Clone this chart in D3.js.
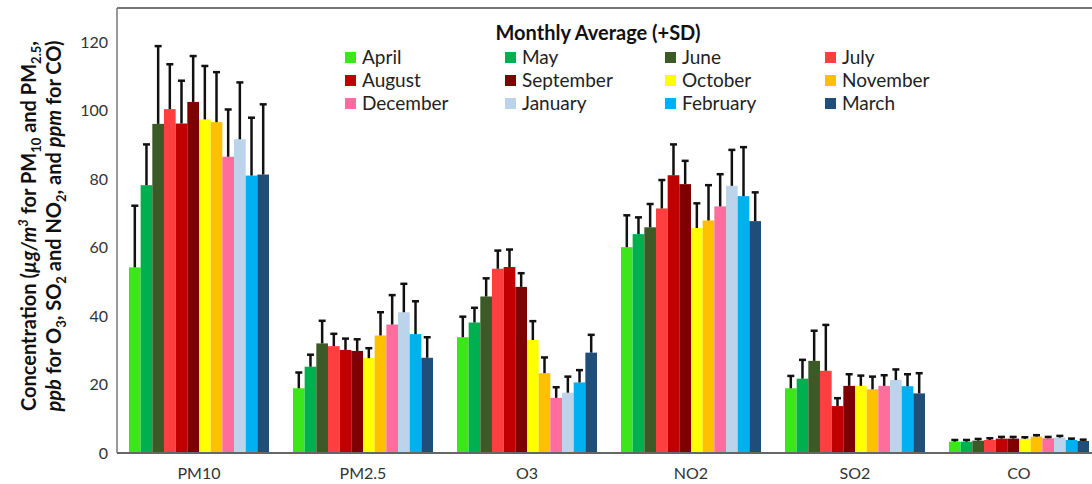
<!DOCTYPE html>
<html>
<head>
<meta charset="utf-8">
<script src="https://cdn.jsdelivr.net/npm/d3@7"></script>
<style>
  body { margin: 0; background: #fff; }
  text { font-family: Lato, "Open Sans", sans-serif; }
</style>
</head>
<body>
<div id="chart"></div>
<script>
var svgWidth = 1092;
var svgHeight = 484;

var pollutants = ["PM10", "PM2.5", "O3", "NO2", "SO2", "CO"];
var months = ["April", "May", "June", "July", "August", "September",
    "October", "November", "December", "January", "February", "March"];
var monthColors = ["#3de61c", "#00b050", "#3b5a26", "#ff3f3f", "#c00000", "#7f0000",
    "#ffff00", "#ffc000", "#ff6d9e", "#bcd3ec", "#00b0f0", "#1f4e79"];

// monthly means, one array per pollutant (April..March)
var meanPM10 = [54.2, 78.2, 96.1, 100.4, 96.2, 102.5, 97.4, 96.6, 86.5, 91.6, 81.0, 81.3];
var meanPM25 = [18.9, 25.2, 32.0, 31.2, 30.1, 29.8, 27.7, 34.3, 37.5, 41.1, 34.7, 27.8];
var meanO3 = [33.8, 38.1, 45.7, 53.8, 54.3, 48.5, 33.0, 23.3, 16.1, 17.6, 20.6, 29.3];
var meanNO2 = [60.1, 63.9, 65.9, 71.4, 81.1, 78.5, 65.7, 67.9, 72.0, 78.0, 75.0, 67.7];
var meanSO2 = [18.9, 21.7, 26.9, 24.0, 13.7, 19.6, 19.6, 18.6, 19.6, 21.3, 19.5, 17.4];
var meanCO = [3.3, 3.3, 3.6, 3.8, 4.2, 4.2, 4.1, 4.8, 4.3, 4.5, 3.8, 3.5];

// mean + SD (top of error bar)
var topPM10 = [72.2, 90.1, 118.8, 113.5, 108.7, 115.9, 113.0, 111.2, 100.3, 108.2, 97.9, 101.8];
var topPM25 = [23.5, 28.7, 38.6, 34.8, 33.4, 33.2, 30.6, 41.1, 46.1, 49.4, 44.3, 33.8];
var topO3 = [39.8, 42.4, 51.0, 59.1, 59.4, 52.5, 38.5, 27.9, 19.2, 22.3, 24.2, 34.5];
var topNO2 = [69.4, 68.8, 72.7, 79.7, 90.1, 85.3, 72.9, 78.2, 81.4, 88.5, 89.3, 76.1];
var topSO2 = [22.5, 27.2, 35.7, 37.4, 16.0, 23.0, 22.6, 22.3, 22.7, 24.4, 23.0, 23.3];
var topCO = [3.8, 3.8, 4.1, 4.3, 4.7, 4.7, 4.6, 5.2, 4.7, 5.0, 4.2, 3.9];

var yTicks = [0, 20, 40, 60, 80, 100, 120];

var means = [meanPM10, meanPM25, meanO3, meanNO2, meanSO2, meanCO];
var tops = [topPM10, topPM25, topO3, topNO2, topSO2, topCO];

var rows = [];
pollutants.forEach(function (p, i) {
    months.forEach(function (m, j) {
        rows.push({ pollutant: p, month: m, value: means[i][j], top: tops[i][j], color: monthColors[j] });
    });
});

var margin = { top: 8, left: 117, bottom: 453 };

var svg = d3.select("#chart")
    .append("svg")
    .attr("width", svgWidth)
    .attr("height", svgHeight);

var x0 = d3.scaleBand()
    .domain(pollutants)
    .range([margin.left, 1101])
    .paddingInner(0.146)
    .paddingOuter(0.073);

var x1 = d3.scaleBand()
    .domain(months)
    .range([0, x0.bandwidth()]);

var y = d3.scaleLinear()
    .domain([0, 120])
    .range([margin.bottom, 42]);

// frame
svg.append("line")
    .attr("x1", margin.left).attr("x2", svgWidth)
    .attr("y1", margin.top).attr("y2", margin.top)
    .attr("stroke", "#777").attr("stroke-width", 2);
svg.append("line")
    .attr("x1", margin.left).attr("x2", margin.left)
    .attr("y1", margin.top).attr("y2", margin.bottom)
    .attr("stroke", "#777").attr("stroke-width", 1.5);

// bars
svg.append("g").selectAll("rect")
    .data(rows)
    .enter()
    .append("rect")
    .attr("x", d => x0(d.pollutant) + x1(d.month))
    .attr("y", d => y(d.value))
    .attr("width", x1.bandwidth())
    .attr("height", d => y(0) - y(d.value))
    .attr("fill", d => d.color);

// error bars
var err = svg.append("g").attr("stroke", "#111").attr("stroke-width", 2.5);
err.selectAll("line.v")
    .data(rows)
    .enter()
    .append("line")
    .attr("class", "v")
    .attr("x1", d => x0(d.pollutant) + x1(d.month) + x1.bandwidth() / 2)
    .attr("x2", d => x0(d.pollutant) + x1(d.month) + x1.bandwidth() / 2)
    .attr("y1", d => y(d.value))
    .attr("y2", d => y(d.top));
err.selectAll("line.cap")
    .data(rows)
    .enter()
    .append("line")
    .attr("class", "cap")
    .attr("x1", d => x0(d.pollutant) + x1(d.month) + x1.bandwidth() / 2 - 3.5)
    .attr("x2", d => x0(d.pollutant) + x1(d.month) + x1.bandwidth() / 2 + 3.5)
    .attr("y1", d => y(d.top))
    .attr("y2", d => y(d.top));

// x axis
var xAxis = svg.append("g")
    .attr("transform", `translate(0, ${margin.bottom})`)
    .call(d3.axisBottom(x0).tickSize(0).tickPadding(15));
xAxis.select(".domain")
    .attr("d", `M${margin.left},0H${svgWidth}`)
    .attr("stroke", "#666").attr("stroke-width", 2);
xAxis.selectAll("text")
    .attr("font-size", 16).attr("fill", "#333")
    .attr("font-family", "Lato, sans-serif");

// y axis
var yAxis = svg.append("g")
    .attr("transform", `translate(${margin.left}, 0)`)
    .call(d3.axisLeft(y).tickValues(yTicks).tickSize(0).tickPadding(9));
yAxis.select(".domain").remove();
yAxis.selectAll("text")
    .attr("font-size", 16).attr("fill", "#333")
    .attr("font-family", "Lato, sans-serif");

// y axis title (two lines)
var yTitle = svg.append("text")
    .attr("transform", "translate(0, 226) rotate(-90)")
    .attr("text-anchor", "middle")
    .attr("font-weight", "bold")
    .attr("font-size", 20)
    .attr("fill", "#111");

var line1 = yTitle.append("tspan").attr("x", 0).attr("y", 36);
line1.append("tspan").text("Concentration (");
line1.append("tspan").attr("font-style", "italic").text("µg/m");
line1.append("tspan").attr("font-style", "italic").attr("font-size", 13).attr("dy", -8).text("3");
line1.append("tspan").attr("dy", 8).text(" for PM");
line1.append("tspan").attr("font-size", 13).attr("dy", 5).text("10");
line1.append("tspan").attr("dy", -5).text(" and PM");
line1.append("tspan").attr("font-size", 13).attr("dy", 5).text("2.5");
line1.append("tspan").attr("dy", -5).text(",");

var line2 = yTitle.append("tspan").attr("x", 0).attr("y", 61);
line2.append("tspan").attr("font-style", "italic").text("ppb");
line2.append("tspan").text(" for O");
line2.append("tspan").attr("font-size", 13).attr("dy", 5).text("3");
line2.append("tspan").attr("dy", -5).text(", SO");
line2.append("tspan").attr("font-size", 13).attr("dy", 5).text("2");
line2.append("tspan").attr("dy", -5).text(" and NO");
line2.append("tspan").attr("font-size", 13).attr("dy", 5).text("2");
line2.append("tspan").attr("dy", -5).text(", and ");
line2.append("tspan").attr("font-style", "italic").text("ppm");
line2.append("tspan").text(" for CO)");

// legend
svg.append("text")
    .attr("x", 598).attr("y", 40)
    .attr("text-anchor", "middle")
    .attr("font-weight", "bold")
    .attr("font-size", 20)
    .attr("fill", "#111")
    .text("Monthly Average (+SD)");

var legend = svg.append("g").selectAll("g")
    .data(months)
    .enter()
    .append("g")
    .attr("transform", (d, i) => `translate(${345 + (i % 4) * 160}, ${57 + Math.floor(i / 4) * 23})`);
legend.append("rect")
    .attr("x", 0).attr("y", -5)
    .attr("width", 11).attr("height", 11)
    .attr("fill", (d, i) => monthColors[i]);
legend.append("text")
    .attr("x", 17).attr("y", 7)
    .attr("font-size", 19)
    .attr("fill", "#222")
    .text(d => d);
</script>
</body>
</html>
